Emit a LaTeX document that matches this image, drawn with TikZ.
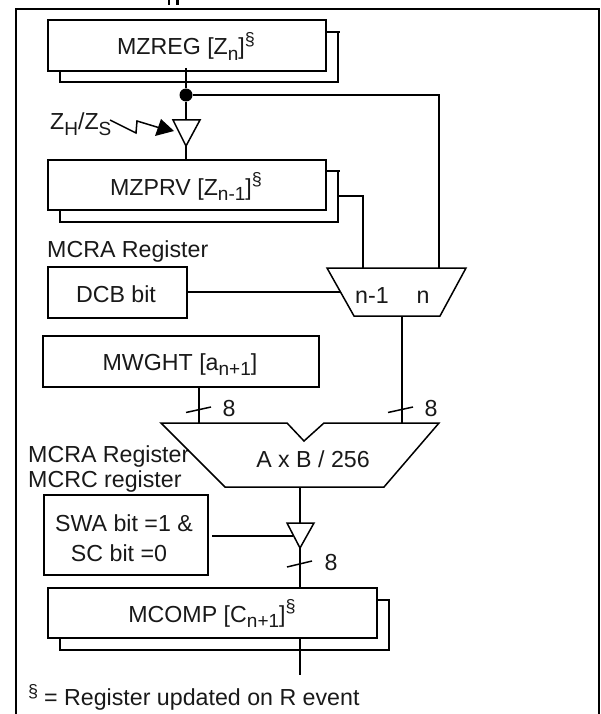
\documentclass[tikz,border=0pt]{standalone}
\usepackage{fontspec}
\setmainfont{Liberation Sans}
\newcommand{\lowsub}[1]{\raisebox{-0.22em}{\fontsize{19}{19}\selectfont #1}}
\newcommand{\highsup}[1]{\raisebox{0.42em}{\fontsize{18}{18}\selectfont #1}}
\tikzset{
  regbox/.style={draw,line width=2pt,rectangle,inner sep=0pt,anchor=north west,fill=white},
  wire/.style={line width=2pt,line cap=butt},
  thinwire/.style={line width=1.5pt},
  shape outline/.style={draw,line width=1.5pt,line join=miter,fill=white},
  lbl/.style={inner sep=0pt,font=\fontsize{23.2}{24}\selectfont,text=black!90},
  lblw/.style={lbl,anchor=base west},
  lblc/.style={lbl,anchor=base},
}
\begin{document}
\begin{tikzpicture}[x=1pt,y=-1pt]
\useasboundingbox (0,0) rectangle (600,714);
\clip (0,0) rectangle (600,714);
% clipped heading remains
\draw[line width=2.5pt] (39.5,-1) arc[start angle=180,end angle=360,x radius=6,y radius=4];
\fill (167.5,0) rectangle (170,5);
\fill (176,0) rectangle (178.5,5);
% frame
\coordinate (fa) at (16,714); \coordinate (fb) at (16,9); \coordinate (fc) at (599,9); \coordinate (fd) at (599,714);
\draw[wire] (fa) -- (fb) -- (fc) -- (fd);
% shadows of registers
\coordinate (s1a) at (60,70); \coordinate (s1b) at (60,82); \coordinate (s1c) at (338,82); \coordinate (s1d) at (338,32); \coordinate (s1e) at (340,32); \coordinate (s1f) at (325,32);
\draw[wire] (s1a) -- (s1b) -- (s1c) -- (s1d); \draw[wire] (s1f) -- (s1e);
\coordinate (s2a) at (60,209); \coordinate (s2b) at (60,222); \coordinate (s2c) at (338,222); \coordinate (s2d) at (338,171); \coordinate (s2e) at (340,171); \coordinate (s2f) at (325,171);
\draw[wire] (s2a) -- (s2b) -- (s2c) -- (s2d); \draw[wire] (s2f) -- (s2e);
\coordinate (s3a) at (60,637); \coordinate (s3b) at (60,650); \coordinate (s3c) at (389,650); \coordinate (s3d) at (389,600); \coordinate (s3f) at (376,600);
\draw[wire] (s3a) -- (s3b) -- (s3c) -- (s3d) -- (s3f);
% registers
\node[regbox,minimum width=278pt,minimum height=51pt] (mzreg) at (47,19) {};
\node[lblc] (mzregt) at (186,55) {MZREG [Z\lowsub{n}]\highsup{§}};
\node[regbox,minimum width=278pt,minimum height=50pt] (mzprv) at (47,159) {};
\node[lblc] (mzprvt) at (186,195) {MZPRV [Z\lowsub{n-1}]\highsup{§}};
\node[regbox,minimum width=139pt,minimum height=51pt] (dcb) at (47,266) {};
\node[lblc] (dcbt) at (116,302) {DCB bit};
\node[regbox,minimum width=276pt,minimum height=51pt] (mwght) at (42,335) {};
\node[lblc] (mwghtt) at (180,370) {MWGHT [a\lowsub{n+1}]};
\node[regbox,minimum width=164pt,minimum height=80pt] (swa) at (43,494) {};
\node[lblc] (swat1) at (124,531) {SWA bit =1 \&};
\node[lblc] (swat2) at (119,561) {SC bit =0};
\node[regbox,minimum width=329pt,minimum height=50pt] (mcomp) at (47,587) {};
\node[lblc] (mcompt) at (212,622) {MCOMP [C\lowsub{n+1}]\highsup{§}};
% labels
\node[lblw] (l1) at (50,130) {Z\lowsub{H}/Z\lowsub{S}};
\node[lblw] (l2) at (47,257) {MCRA Register};
\node[lblw] (l3) at (28,462) {MCRA Register};
\node[lblw] (l4) at (28,487) {MCRC register};
\node[lblw] (l5s) at (28,697) {\fontsize{18}{18}\selectfont §};
\node[lblw] (l5) at (44,705) {= Register updated on R event};
% mux
\coordinate (m1) at (327,268); \coordinate (m2) at (466,268); \coordinate (m3) at (440,316); \coordinate (m4) at (354,316);
\coordinate (mi1) at (363,268); \coordinate (mi2) at (439,268); \coordinate (mo) at (402,316); \coordinate (msel) at (340,292);
\draw[shape outline] (m1) -- (m2) -- (m3) -- (m4) -- cycle;
\node[lblc] (mt1) at (372,303) {n-1};
\node[lblc] (mt2) at (423,303) {n};
% multiplier
\coordinate (a1) at (161,423); \coordinate (a2) at (287,423); \coordinate (a3) at (304,441); \coordinate (a4) at (324,423); \coordinate (a5) at (439,423); \coordinate (a6) at (384,487); \coordinate (a7) at (225,487);
\coordinate (ai1) at (199,423); \coordinate (ai2) at (402,423); \coordinate (ao) at (300,487);
\draw[shape outline,fill=none] (a1) -- (a2) -- (a3) -- (a4) -- (a5) -- (a6) -- (a7) -- cycle;
\node[lblc] (at) at (313,467) {A x B / 256};
% buffers
\coordinate (b1a) at (173,120); \coordinate (b1b) at (200,120); \coordinate (b1c) at (186,146); \coordinate (b1t) at (186,120); \coordinate (b1s) at (174,131);
\draw[shape outline] (b1a) -- (b1b) -- (b1c) -- cycle;
\coordinate (b2a) at (287,523); \coordinate (b2b) at (314,523); \coordinate (b2c) at (300,548); \coordinate (b2t) at (300,523); \coordinate (b2s) at (293,536);
\draw[shape outline] (b2a) -- (b2b) -- (b2c) -- cycle;
% junction
\node[circle,fill=black,inner sep=0pt,minimum size=13pt] (dot) at (186,95) {};
% connectors
\draw[wire] (186,68) -- (dot);
\draw[wire] (dot) -- (b1t);
\draw[wire] (b1c) -- (mzprv.north -| b1c);
\coordinate (c1) at (439,95);
\draw[wire] (dot) -- (c1) -- (mi2);
\coordinate (c2) at (338,196); \coordinate (c3) at (363,196);
\draw[wire] (c2) -- (c3) -- (mi1);
\coordinate (d1) at (188,292);
\draw[wire] (d1) -- (msel);
\draw[wire] (mo) -- (ai2);
\draw[wire] (mwght.south -| ai1) -- (ai1);
\draw[wire] (ao) -- (b2t);
\coordinate (e1) at (212,536);
\draw[wire] (e1) -- (b2s);
\draw[wire] (b2c) -- (mcomp.north -| b2c);
\coordinate (f1) at (300,637); \coordinate (f2) at (300,675);
\draw[wire] (f1) -- (f2);
% bus ticks
\coordinate (t1a) at (186,412.5); \coordinate (t1b) at (211,407);
\coordinate (t2a) at (388,412.5); \coordinate (t2b) at (413,407);
\coordinate (t3a) at (287,567); \coordinate (t3b) at (312,561);
\draw[thinwire] (t1a) -- (t1b); \draw[thinwire] (t2a) -- (t2b); \draw[thinwire] (t3a) -- (t3b);
\node[lblc] (n1) at (229,416) {8};
\node[lblc] (n2) at (431,416) {8};
\node[lblc] (n3) at (331,570) {8};
% lightning
\coordinate (z1) at (110,120); \coordinate (z2) at (136,133); \coordinate (z3) at (137,121); \coordinate (z4) at (160,128);
\coordinate (h2) at (161,119); \coordinate (h3) at (155,136);
\draw[line width=1.5pt] (z1) -- (z2) -- (z3) -- (z4);
\fill (b1s) -- (h2) -- (h3) -- cycle;
\end{tikzpicture}
\end{document}
